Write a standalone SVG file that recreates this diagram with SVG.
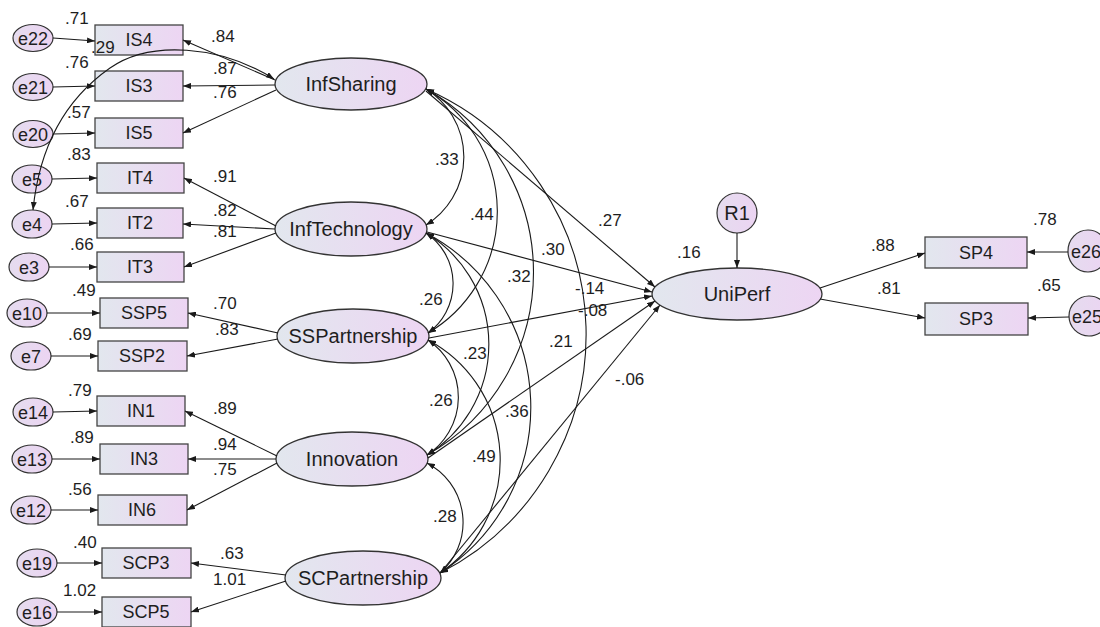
<svg xmlns="http://www.w3.org/2000/svg" width="1100" height="627" viewBox="0 0 1100 627">
  <defs>
    <linearGradient id="fillNode" x1="0" y1="0" x2="1" y2="0">
      <stop offset="0" stop-color="#e2e7ee"/>
      <stop offset="1" stop-color="#edd5f3"/>
    </linearGradient>
    <linearGradient id="fillErr" x1="0" y1="0" x2="1" y2="0">
      <stop offset="0" stop-color="#e5dcef"/>
      <stop offset="1" stop-color="#ecd4f2"/>
    </linearGradient>
    <marker id="arrow" viewBox="0 0 8 6" refX="8" refY="3" markerWidth="8" markerHeight="6" markerUnits="userSpaceOnUse" orient="auto-start-reverse">
      <path d="M0,0 L8,3 L0,6 z" fill="#1a1a1a"/>
    </marker>
    <style>
      .box { fill: url(#fillNode); stroke: #444; stroke-width: 1.3; }
      .lat { fill: url(#fillNode); stroke: #333; stroke-width: 1.3; }
      .err { fill: url(#fillErr); stroke: #333; stroke-width: 1.2; }
      .lbl { font-family: "Liberation Sans", Arial, sans-serif; fill: #1e1e1e; text-anchor: middle; }
      .obs { font-size: 18px; }
      .lt { font-size: 20px; }
      .et { font-size: 18px; }
      .num { font-family: "Liberation Sans", Arial, sans-serif; font-size: 17px; fill: #1e1e1e; }
      .edge { fill: none; stroke: #1a1a1a; stroke-width: 1.1; marker-end: url(#arrow); }
      .cov { fill: none; stroke: #1a1a1a; stroke-width: 1.1; marker-start: url(#arrow); marker-end: url(#arrow); }
    </style>
  </defs>

  <rect width="1100" height="627" fill="#ffffff"/>

  <!-- latent variables -->
  <g id="InfSharing"><ellipse class="lat" cx="351" cy="84" rx="76" ry="26"/><text class="lbl lt" x="351" y="91">InfSharing</text></g>
  <g id="InfTechnology"><ellipse class="lat" cx="351" cy="229" rx="76" ry="27"/><text class="lbl lt" x="351" y="236">InfTechnology</text></g>
  <g id="SSPartnership"><ellipse class="lat" cx="353" cy="336" rx="76" ry="27"/><text class="lbl lt" x="353" y="343">SSPartnership</text></g>
  <g id="Innovation"><ellipse class="lat" cx="352" cy="459" rx="76" ry="27"/><text class="lbl lt" x="352" y="466">Innovation</text></g>
  <g id="SCPartnership"><ellipse class="lat" cx="363" cy="578" rx="78" ry="27"/><text class="lbl lt" x="363" y="585">SCPartnership</text></g>
  <g id="UniPerf"><ellipse class="lat" cx="737" cy="294" rx="85" ry="26"/><text class="lbl lt" x="737" y="301">UniPerf</text></g>
  <g id="R1"><circle class="err" cx="737" cy="213" r="20"/><text class="lbl lt" x="737" y="220">R1</text></g>

  <!-- indicators -->
  <g id="IS4"><rect class="box" x="95" y="25" width="88" height="30"/><text class="lbl obs" x="139" y="46">IS4</text></g>
  <g id="IS3"><rect class="box" x="95" y="71" width="88" height="30"/><text class="lbl obs" x="139" y="92">IS3</text></g>
  <g id="IS5"><rect class="box" x="95" y="118" width="88" height="30"/><text class="lbl obs" x="139" y="139">IS5</text></g>
  <g id="IT4"><rect class="box" x="97" y="163" width="87" height="30"/><text class="lbl obs" x="140" y="184">IT4</text></g>
  <g id="IT2"><rect class="box" x="97" y="208" width="86" height="30"/><text class="lbl obs" x="140" y="229">IT2</text></g>
  <g id="IT3"><rect class="box" x="97" y="252" width="87" height="30"/><text class="lbl obs" x="140" y="273">IT3</text></g>
  <g id="SSP5"><rect class="box" x="100" y="298" width="88" height="30"/><text class="lbl obs" x="144" y="319">SSP5</text></g>
  <g id="SSP2"><rect class="box" x="98" y="341" width="89" height="30"/><text class="lbl obs" x="142" y="362">SSP2</text></g>
  <g id="IN1"><rect class="box" x="97" y="396" width="88" height="30"/><text class="lbl obs" x="141" y="417">IN1</text></g>
  <g id="IN3"><rect class="box" x="100" y="444" width="88" height="30"/><text class="lbl obs" x="144" y="465">IN3</text></g>
  <g id="IN6"><rect class="box" x="98" y="495" width="89" height="30"/><text class="lbl obs" x="142" y="516">IN6</text></g>
  <g id="SCP3"><rect class="box" x="102" y="548" width="89" height="30"/><text class="lbl obs" x="146" y="569">SCP3</text></g>
  <g id="SCP5"><rect class="box" x="102" y="597" width="89" height="30"/><text class="lbl obs" x="146" y="618">SCP5</text></g>
  <g id="SP4"><rect class="box" x="925" y="237" width="102" height="31"/><text class="lbl obs" x="976" y="259">SP4</text></g>
  <g id="SP3"><rect class="box" x="925" y="303" width="103" height="32"/><text class="lbl obs" x="976" y="325">SP3</text></g>

  <!-- error terms -->
  <g id="e22"><ellipse class="err" cx="33" cy="38" rx="20" ry="13.5"/><text class="lbl et" x="33" y="44.5">e22</text></g>
  <g id="e21"><ellipse class="err" cx="33" cy="87" rx="20" ry="13.5"/><text class="lbl et" x="33" y="93.5">e21</text></g>
  <g id="e20"><ellipse class="err" cx="33" cy="134" rx="20" ry="13.5"/><text class="lbl et" x="33" y="140.5">e20</text></g>
  <g id="e5"><ellipse class="err" cx="32" cy="179" rx="20" ry="14"/><text class="lbl et" x="32" y="185.5">e5</text></g>
  <g id="e4"><ellipse class="err" cx="32" cy="224" rx="20" ry="14"/><text class="lbl et" x="32" y="230.5">e4</text></g>
  <g id="e3"><ellipse class="err" cx="29" cy="267" rx="20" ry="14"/><text class="lbl et" x="29" y="273.5">e3</text></g>
  <g id="e10"><ellipse class="err" cx="27" cy="313" rx="20" ry="14"/><text class="lbl et" x="27" y="319.5">e10</text></g>
  <g id="e7"><ellipse class="err" cx="31" cy="356" rx="20" ry="14"/><text class="lbl et" x="31" y="362.5">e7</text></g>
  <g id="e14"><ellipse class="err" cx="33" cy="412" rx="20" ry="14"/><text class="lbl et" x="33" y="418.5">e14</text></g>
  <g id="e13"><ellipse class="err" cx="32" cy="459" rx="20" ry="14"/><text class="lbl et" x="32" y="465.5">e13</text></g>
  <g id="e12"><ellipse class="err" cx="31" cy="510" rx="20" ry="14"/><text class="lbl et" x="31" y="516.5">e12</text></g>
  <g id="e19"><ellipse class="err" cx="37" cy="563" rx="20" ry="14"/><text class="lbl et" x="37" y="569.5">e19</text></g>
  <g id="e16"><ellipse class="err" cx="37" cy="612" rx="20" ry="14"/><text class="lbl et" x="37" y="618.5">e16</text></g>
  <g id="e26"><ellipse class="err" cx="1088" cy="251" rx="20" ry="21"/><text class="lbl et" x="1086" y="257.5">e26</text></g>
  <g id="e25"><ellipse class="err" cx="1089" cy="316" rx="20" ry="20"/><text class="lbl et" x="1087" y="322.5">e25</text></g>

  <!-- connectors, drawn above the nodes -->
  <g id="connectors">
    <!-- error terms into indicators -->
    <line class="edge" x1="53" y1="38" x2="95" y2="41"/>
    <line class="edge" x1="53" y1="87" x2="95" y2="86"/>
    <line class="edge" x1="53" y1="134" x2="95" y2="133"/>
    <line class="edge" x1="52" y1="179" x2="97" y2="178"/>
    <line class="edge" x1="52" y1="224" x2="97" y2="223"/>
    <line class="edge" x1="49" y1="267" x2="97" y2="267"/>
    <line class="edge" x1="47" y1="313" x2="100" y2="313"/>
    <line class="edge" x1="51" y1="356" x2="98" y2="356"/>
    <line class="edge" x1="53" y1="412" x2="97" y2="411"/>
    <line class="edge" x1="52" y1="459" x2="100" y2="459"/>
    <line class="edge" x1="51" y1="510" x2="98" y2="510"/>
    <line class="edge" x1="57" y1="563" x2="102" y2="563"/>
    <line class="edge" x1="57" y1="612" x2="102" y2="612"/>
    <line class="edge" x1="1068" y1="252" x2="1027" y2="252"/>
    <line class="edge" x1="1069" y1="317" x2="1028" y2="318"/>

    <!-- factor loadings -->
    <line class="edge" x1="275" y1="80" x2="183" y2="40"/>
    <line class="edge" x1="275" y1="85" x2="183" y2="86"/>
    <line class="edge" x1="276" y1="90" x2="183" y2="133"/>
    <line class="edge" x1="276" y1="226" x2="184" y2="178"/>
    <line class="edge" x1="275" y1="229" x2="183" y2="224"/>
    <line class="edge" x1="276" y1="233" x2="184" y2="267"/>
    <line class="edge" x1="278" y1="333" x2="188" y2="313"/>
    <line class="edge" x1="278" y1="339" x2="187" y2="356"/>
    <line class="edge" x1="277" y1="456" x2="185" y2="411"/>
    <line class="edge" x1="276" y1="459" x2="188" y2="459"/>
    <line class="edge" x1="277" y1="463" x2="187" y2="510"/>
    <line class="edge" x1="286" y1="575" x2="191" y2="563"/>
    <line class="edge" x1="286" y1="581" x2="191" y2="612"/>
    <line class="edge" x1="820" y1="288" x2="925" y2="253"/>
    <line class="edge" x1="820" y1="299" x2="925" y2="318"/>

    <!-- structural paths -->
    <line class="edge" x1="737" y1="233" x2="737" y2="268"/>
    <line class="edge" x1="426" y1="91" x2="655" y2="287"/>
    <line class="edge" x1="427" y1="232" x2="652" y2="292"/>
    <line class="edge" x1="429" y1="338" x2="652" y2="296"/>
    <line class="edge" x1="428" y1="458" x2="655" y2="301"/>
    <line class="edge" x1="441" y1="572" x2="660" y2="305"/>

    <!-- covariances -->
    <path class="cov" d="M274,79 C220,45 150,40 110,68 C70,96 40,140 33,210"/>
    <path class="cov" d="M426,89 A80,80 0 0 1 426,225"/>
    <path class="cov" d="M426,89 A141,141 0 0 1 428,333"/>
    <path class="cov" d="M426,89 A210,210 0 0 1 427,455"/>
    <path class="cov" d="M426,89 A268,268 0 0 1 440,573"/>
    <path class="cov" d="M426,233 A61,61 0 0 1 428,333"/>
    <path class="cov" d="M426,233 A130,130 0 0 1 427,455"/>
    <path class="cov" d="M426,233 A197,197 0 0 1 440,573"/>
    <path class="cov" d="M428,340 A69,69 0 0 1 427,455"/>
    <path class="cov" d="M428,340 A136,136 0 0 1 440,573"/>
    <path class="cov" d="M427,463 A67,67 0 0 1 440,573"/>
  </g>

  <!-- estimates -->
  <g id="estimates">
    <text class="num" x="65" y="24">.71</text>
    <text class="num" x="211" y="42">.84</text>
    <text class="num" x="91" y="53">.29</text>
    <text class="num" x="65" y="68">.76</text>
    <text class="num" x="213" y="74">.87</text>
    <text class="num" x="213" y="98">.76</text>
    <text class="num" x="67" y="118">.57</text>
    <text class="num" x="67" y="160">.83</text>
    <text class="num" x="213" y="182">.91</text>
    <text class="num" x="65" y="207">.67</text>
    <text class="num" x="213" y="216">.82</text>
    <text class="num" x="213" y="237">.81</text>
    <text class="num" x="70" y="250">.66</text>
    <text class="num" x="72" y="296">.49</text>
    <text class="num" x="213" y="309">.70</text>
    <text class="num" x="215" y="335">.83</text>
    <text class="num" x="68" y="340">.69</text>
    <text class="num" x="68" y="396">.79</text>
    <text class="num" x="213" y="414">.89</text>
    <text class="num" x="70" y="443">.89</text>
    <text class="num" x="213" y="450">.94</text>
    <text class="num" x="213" y="475">.75</text>
    <text class="num" x="68" y="495">.56</text>
    <text class="num" x="73" y="548">.40</text>
    <text class="num" x="220" y="559">.63</text>
    <text class="num" x="213" y="585">1.01</text>
    <text class="num" x="63" y="596">1.02</text>

    <text class="num" x="435" y="165">.33</text>
    <text class="num" x="470" y="220">.44</text>
    <text class="num" x="598" y="226">.27</text>
    <text class="num" x="541" y="255">.30</text>
    <text class="num" x="507" y="282">.32</text>
    <text class="num" x="419" y="305">.26</text>
    <text class="num" x="575" y="294">-.14</text>
    <text class="num" x="578" y="316">-.08</text>
    <text class="num" x="549" y="347">.21</text>
    <text class="num" x="463" y="359">.23</text>
    <text class="num" x="615" y="385">-.06</text>
    <text class="num" x="429" y="406">.26</text>
    <text class="num" x="505" y="417">.36</text>
    <text class="num" x="472" y="462">.49</text>
    <text class="num" x="433" y="522">.28</text>

    <text class="num" x="677" y="258">.16</text>
    <text class="num" x="871" y="251">.88</text>
    <text class="num" x="877" y="294">.81</text>
    <text class="num" x="1033" y="225">.78</text>
    <text class="num" x="1037" y="291">.65</text>
  </g>
</svg>
